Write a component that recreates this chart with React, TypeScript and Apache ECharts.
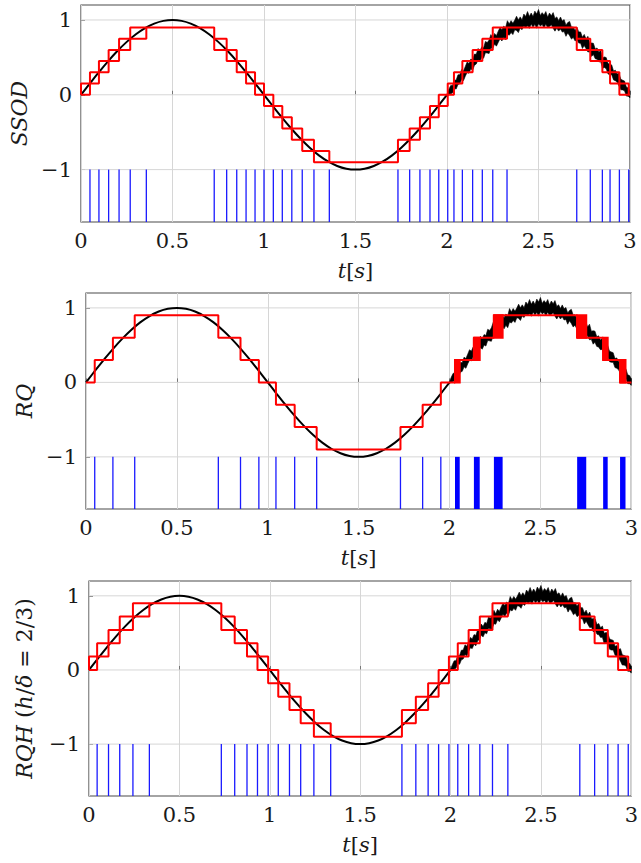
import React, { useEffect, useRef } from 'react';
import * as echarts from 'echarts';

// ---------- data ----------
const xTickLabels = ['0', '0.5', '1', '1.5', '2', '2.5', '3'];
const yTickValues = [-1, 0, 1];

// clean reference signal, sampled every 0.05 s from t = 0 to t = 2
const sineStep = 0.05;
const sineClean = [
  0, 0.1564, 0.309, 0.454, 0.5878, 0.7071, 0.809, 0.891, 0.9511, 0.9877, 1,
  0.9877, 0.9511, 0.891, 0.809, 0.7071, 0.5878, 0.454, 0.309, 0.1564, 0,
  -0.1564, -0.309, -0.454, -0.5878, -0.7071, -0.809, -0.891, -0.9511, -0.9877, -1,
  -0.9877, -0.9511, -0.891, -0.809, -0.7071, -0.5878, -0.454, -0.309, -0.1564, 0,
];

// noisy part, t = 2 .. 3 every 0.01 s: centre and spread of the noise band
const noiseStart = 2;
const noiseStep = 0.01;
const noiseCenter = [
  0, 0.0314, 0.0628, 0.0941, 0.1253, 0.1564, 0.1874, 0.2181, 0.2487, 0.279,
  0.309, 0.3387, 0.3681, 0.3971, 0.4258, 0.454, 0.4818, 0.509, 0.5358, 0.5621,
  0.5878, 0.6129, 0.6374, 0.6613, 0.6845, 0.7071, 0.729, 0.7501, 0.7705, 0.7902,
  0.809, 0.8271, 0.8443, 0.8607, 0.8763, 0.891, 0.9048, 0.9178, 0.9298, 0.9409,
  0.9511, 0.9603, 0.9686, 0.9759, 0.9823, 0.9877, 0.9921, 0.9956, 0.998, 0.9995,
  1,
  0.9995, 0.998, 0.9956, 0.9921, 0.9877, 0.9823, 0.9759, 0.9686, 0.9603, 0.9511,
  0.9409, 0.9298, 0.9178, 0.9048, 0.891, 0.8763, 0.8607, 0.8443, 0.8271, 0.809,
  0.7902, 0.7705, 0.7501, 0.729, 0.7071, 0.6845, 0.6613, 0.6374, 0.6129, 0.5878,
  0.5621, 0.5358, 0.509, 0.4818, 0.454, 0.4258, 0.3971, 0.3681, 0.3387, 0.309,
  0.279, 0.2487, 0.2181, 0.1874, 0.1564, 0.1253, 0.0941, 0.0628, 0.0314, 0,
];
const noiseUpper = [
  0.01, 0.04, 0.06, 0.03, 0.07, 0.04, 0.08, 0.05, 0.09, 0.04,
  0.07, 0.1, 0.05, 0.08, 0.04, 0.09, 0.06, 0.11, 0.05, 0.08,
  0.04, 0.1, 0.06, 0.07, 0.12, 0.05, 0.09, 0.04, 0.08, 0.11,
  0.06, 0.09, 0.05, 0.13, 0.07, 0.1, 0.05, 0.08, 0.12, 0.06,
  0.09, 0.04, 0.11, 0.07, 0.13, 0.06, 0.1, 0.05, 0.12, 0.08,
  0.14, 0.06, 0.1, 0.07, 0.12, 0.05, 0.11, 0.08, 0.13, 0.06,
  0.09, 0.05, 0.11, 0.07, 0.1, 0.04, 0.09, 0.12, 0.06, 0.08,
  0.05, 0.11, 0.07, 0.09, 0.04, 0.1, 0.06, 0.12, 0.05, 0.08,
  0.1, 0.05, 0.09, 0.06, 0.11, 0.04, 0.08, 0.1, 0.05, 0.07,
  0.09, 0.04, 0.08, 0.06, 0.1, 0.05, 0.07, 0.09, 0.04, 0.06,
  0.05,
];
const noiseLower = [
  0.01, 0.03, 0.05, 0.07, 0.04, 0.08, 0.05, 0.07, 0.04, 0.09,
  0.06, 0.04, 0.08, 0.05, 0.1, 0.06, 0.07, 0.04, 0.09, 0.06,
  0.1, 0.05, 0.08, 0.11, 0.06, 0.09, 0.05, 0.1, 0.07, 0.04,
  0.09, 0.06, 0.11, 0.05, 0.08, 0.06, 0.1, 0.05, 0.07, 0.11,
  0.06, 0.09, 0.05, 0.08, 0.06, 0.1, 0.05, 0.09, 0.06, 0.11,
  0.05, 0.08, 0.06, 0.1, 0.05, 0.09, 0.07, 0.04, 0.08, 0.11,
  0.06, 0.09, 0.05, 0.08, 0.06, 0.11, 0.05, 0.07, 0.1, 0.06,
  0.09, 0.05, 0.08, 0.06, 0.11, 0.05, 0.07, 0.09, 0.06, 0.1,
  0.05, 0.08, 0.06, 0.07, 0.04, 0.1, 0.06, 0.05, 0.09, 0.07,
  0.04, 0.08, 0.06, 0.05, 0.07, 0.09, 0.06, 0.04, 0.08, 0.05,
  0.04,
];

// SSOD: send-on-delta events
const ssodTimes = [
  0, 0.049, 0.098, 0.151, 0.208, 0.269, 0.357,
  0.728, 0.796, 0.851, 0.902, 0.951, 1.0, 1.051, 1.1, 1.152, 1.209, 1.273, 1.357,
  1.732, 1.796, 1.852, 1.907, 1.955, 2.004, 2.038, 2.084, 2.14, 2.193, 2.25, 2.328,
  2.709, 2.783, 2.849, 2.891, 2.942, 2.993,
];
const ssodLevels = [
  0, 0.15, 0.3, 0.45, 0.6, 0.75, 0.9,
  0.75, 0.6, 0.45, 0.3, 0.15, 0, -0.15, -0.3, -0.45, -0.6, -0.75, -0.9,
  -0.75, -0.6, -0.45, -0.3, -0.15, 0, 0.15, 0.3, 0.45, 0.6, 0.75, 0.9,
  0.75, 0.6, 0.45, 0.3, 0.15, 0,
];
const ssodRuns = [[0, 6], [7, 18], [19, 30], [31, 36]];

// RQ: plain quantizer events
const rqTimes = [0, 0.048, 0.148, 0.268, 0.728, 0.85, 0.951, 1.045, 1.148, 1.269, 1.73, 1.852, 1.952];
const rqLevels = [0, 0.3, 0.6, 0.9, 0.6, 0.3, 0, -0.3, -0.6, -0.9, -0.6, -0.3, 0];
const rqChatterStart = [2.03, 2.134, 2.244, 2.702, 2.845, 2.938];
const rqChatterEnd = [2.056, 2.166, 2.292, 2.752, 2.87, 2.968];
const rqChatterFrom = [0, 0.3, 0.6, 0.9, 0.6, 0.3];
const rqChatterTo = [0.3, 0.6, 0.9, 0.6, 0.3, 0];

// RQH: quantizer with hysteresis h/delta = 2/3
const rqhTimes = [
  0, 0.045, 0.108, 0.17, 0.243, 0.334,
  0.732, 0.806, 0.874, 0.932, 0.991, 1.047, 1.109, 1.171, 1.244, 1.337,
  1.731, 1.808, 1.876, 1.934, 1.991, 2.04, 2.1, 2.162, 2.232, 2.317,
  2.715, 2.797, 2.87, 2.927, 2.983,
];
const rqhLevels = [
  0, 0.18, 0.36, 0.54, 0.72, 0.9,
  0.72, 0.54, 0.36, 0.18, 0, -0.18, -0.36, -0.54, -0.72, -0.9,
  -0.72, -0.54, -0.36, -0.18, 0, 0.18, 0.36, 0.54, 0.72, 0.9,
  0.72, 0.54, 0.36, 0.18, 0,
];
const rqhRuns = [[0, 5], [6, 15], [16, 25], [26, 30]];

const X_MIN = 0;
const X_MAX = 3;
const Y_MIN = -1.7;
const Y_MAX = 1.2;
const EVENT_TOP = -1;

// ---------- style ----------
const FONT = 'DejaVu Serif';
const RED = '#ff0000';
const BLUE = '#1a1aff';
const GRIDC = '#d6d6d6';
const TXT = '#1a1a1a';

function fmtY(v: number) {
  return v < 0 ? '\u2212' + Math.abs(v) : String(v);
}

function basePanel(p: number) {
  const series: any[] = [];
  series.push({
    type: 'custom', xAxisIndex: p, yAxisIndex: p, z: 1, silent: true,
    data: yTickValues.map((v) => [X_MIN, v]), encode: { x: 0, y: 1 },
    renderItem: (_params: any, api: any) => {
      const y = api.value(1);
      const a = api.coord([X_MIN, y]);
      const b = api.coord([X_MAX, y]);
      return { type: 'line', shape: { x1: a[0], y1: a[1], x2: b[0], y2: b[1] }, style: { stroke: GRIDC, lineWidth: 1 } };
    },
  });
  series.push({
    type: 'line', xAxisIndex: p, yAxisIndex: p, z: 3, silent: true, smooth: 0.4,
    symbol: 'none', lineStyle: { color: '#000', width: 2 },
    data: sineClean.map((v, i) => [i * sineStep, v]),
  });
  series.push({
    type: 'custom', xAxisIndex: p, yAxisIndex: p, z: 3, silent: true,
    data: [[noiseStart, 0]], encode: { x: 0, y: 1 },
    renderItem: (_params: any, api: any) => {
      const pts: number[][] = [];
      for (let i = 0; i < noiseCenter.length; i++) {
        pts.push(api.coord([noiseStart + i * noiseStep, noiseCenter[i] + noiseUpper[i]]));
      }
      for (let i = noiseCenter.length - 1; i >= 0; i--) {
        pts.push(api.coord([noiseStart + i * noiseStep, noiseCenter[i] - noiseLower[i]]));
      }
      return { type: 'polygon', shape: { points: pts }, style: { fill: '#000', stroke: '#000', lineWidth: 0.6 } };
    },
  });
  return series;
}

function eventTicks(p: number, times: number[]) {
  return {
    type: 'custom', xAxisIndex: p, yAxisIndex: p, z: 2, silent: true,
    data: times.map((t) => [t, EVENT_TOP]), encode: { x: 0, y: 1 },
    renderItem: (_params: any, api: any) => {
      const t = api.value(0);
      const a = api.coord([t, EVENT_TOP]);
      const b = api.coord([t, Y_MIN]);
      return { type: 'line', shape: { x1: a[0], y1: a[1], x2: b[0], y2: b[1] }, style: { stroke: BLUE, lineWidth: 1.3 } };
    },
  };
}

function stairs(p: number, times: number[], levels: number[], runs: number[][] | null) {
  const out: any[] = [];
  const main = times.map((t, i) => [t, levels[i]]);
  main.push([X_MAX, levels[levels.length - 1]]);
  out.push({
    type: 'line', xAxisIndex: p, yAxisIndex: p, z: 5, silent: true, step: 'end',
    symbol: 'none', lineStyle: { color: RED, width: 2 }, data: main,
  });
  if (runs) {
    runs.forEach(([s, e]) => {
      out.push({
        type: 'line', xAxisIndex: p, yAxisIndex: p, z: 5, silent: true, step: 'start',
        symbol: 'none', lineStyle: { color: RED, width: 2 },
        data: times.slice(s, e + 1).map((t, i) => [t, levels[s + i]]),
      });
    });
  }
  return out;
}

function buildOption() {
  const grids = [
    { left: 81, top: 5, width: 549, height: 217 },
    { left: 86, top: 293, width: 549, height: 216 },
    { left: 89, top: 581, width: 548, height: 215 },
  ].map((g) => ({ ...g, show: true, borderColor: '#4a4a4a', borderWidth: 1.2, backgroundColor: 'transparent' }));

  const yNames = ['SSOD', 'RQ', '{i|RQH} ({i|h}/{i|\u03b4} = 2/3)'];
  const yGaps = [44, 46, 54];

  const xAxes = [0, 1, 2].map((p) => ({
    gridIndex: p, type: 'value', min: X_MIN, max: X_MAX, interval: 0.5,
    axisLine: { show: false },
    axisTick: { show: true, inside: true, length: 4, lineStyle: { color: '#777' } },
    splitLine: { show: true, lineStyle: { color: GRIDC, width: 1 } },
    axisLabel: {
      fontFamily: FONT, fontSize: 21, color: TXT, margin: 8,
      formatter: (v: number) => xTickLabels[Math.round(v * 2)] ?? String(v),
    },
    name: '{i|t}[{i|s}]', nameLocation: 'middle', nameGap: 38,
    nameTextStyle: {
      fontFamily: FONT, fontSize: 21, color: TXT,
      rich: { i: { fontFamily: FONT, fontSize: 21, fontStyle: 'italic', color: TXT } },
    },
  }));

  const yAxes = [0, 1, 2].map((p) => ({
    gridIndex: p, type: 'value', min: Y_MIN, max: Y_MAX,
    axisLine: { show: false },
    splitLine: { show: false },
    axisTick: { show: true, inside: true, length: 4, customValues: yTickValues, lineStyle: { color: '#777' } },
    axisLabel: {
      fontFamily: FONT, fontSize: 21, color: TXT, margin: 9,
      customValues: yTickValues, formatter: (v: number) => fmtY(v),
    },
    name: yNames[p], nameLocation: 'middle', nameGap: yGaps[p], nameRotate: 90,
    nameTextStyle: {
      fontFamily: FONT, fontSize: 22, color: TXT, fontStyle: p < 2 ? 'italic' : 'normal',
      rich: { i: { fontFamily: FONT, fontSize: 22, fontStyle: 'italic', color: TXT } },
    },
  }));

  const series: any[] = [];
  series.push(...basePanel(0));
  series.push(eventTicks(0, ssodTimes.slice(1)));
  series.push(...stairs(0, ssodTimes, ssodLevels, ssodRuns));

  series.push(...basePanel(1));
  series.push(eventTicks(1, rqTimes.slice(1)));
  const rqT = rqTimes.concat(rqChatterStart);
  const rqL = rqLevels.concat(rqChatterTo);
  series.push(...stairs(1, rqT, rqL, null));
  const chatter = rqChatterStart.map((s, i) => [s, rqChatterEnd[i], rqChatterFrom[i], rqChatterTo[i]]);
  series.push({
    type: 'custom', xAxisIndex: 1, yAxisIndex: 1, z: 5, silent: true,
    data: chatter, encode: { x: [0, 1], y: [2, 3] },
    renderItem: (_params: any, api: any) => {
      const a = api.coord([api.value(0), api.value(2)]);
      const b = api.coord([api.value(1), api.value(3)]);
      return {
        type: 'rect',
        shape: { x: Math.min(a[0], b[0]), y: Math.min(a[1], b[1]), width: Math.abs(b[0] - a[0]), height: Math.abs(b[1] - a[1]) },
        style: { fill: RED, stroke: RED, lineWidth: 2 },
      };
    },
  });
  series.push({
    type: 'custom', xAxisIndex: 1, yAxisIndex: 1, z: 2, silent: true,
    data: chatter, encode: { x: [0, 1], y: [2, 3] },
    renderItem: (_params: any, api: any) => {
      const a = api.coord([api.value(0), EVENT_TOP]);
      const b = api.coord([api.value(1), Y_MIN]);
      return {
        type: 'rect',
        shape: { x: Math.min(a[0], b[0]), y: Math.min(a[1], b[1]), width: Math.abs(b[0] - a[0]), height: Math.abs(b[1] - a[1]) },
        style: { fill: '#0000ff' },
      };
    },
  });

  series.push(...basePanel(2));
  series.push(eventTicks(2, rqhTimes.slice(1)));
  series.push(...stairs(2, rqhTimes, rqhLevels, rqhRuns));

  return {
    animation: false,
    backgroundColor: '#ffffff',
    textStyle: { fontFamily: FONT },
    grid: grids,
    xAxis: xAxes,
    yAxis: yAxes,
    series,
  };
}

export default function App() {
  const ref = useRef<HTMLDivElement>(null);
  useEffect(() => {
    document.body.style.margin = '0';
    if (!ref.current) return;
    const chart = echarts.init(ref.current, null, { renderer: 'svg' });
    chart.setOption(buildOption() as any);
    return () => chart.dispose();
  }, []);
  return <div ref={ref} style={{ width: 641, height: 863 }} />;
}
